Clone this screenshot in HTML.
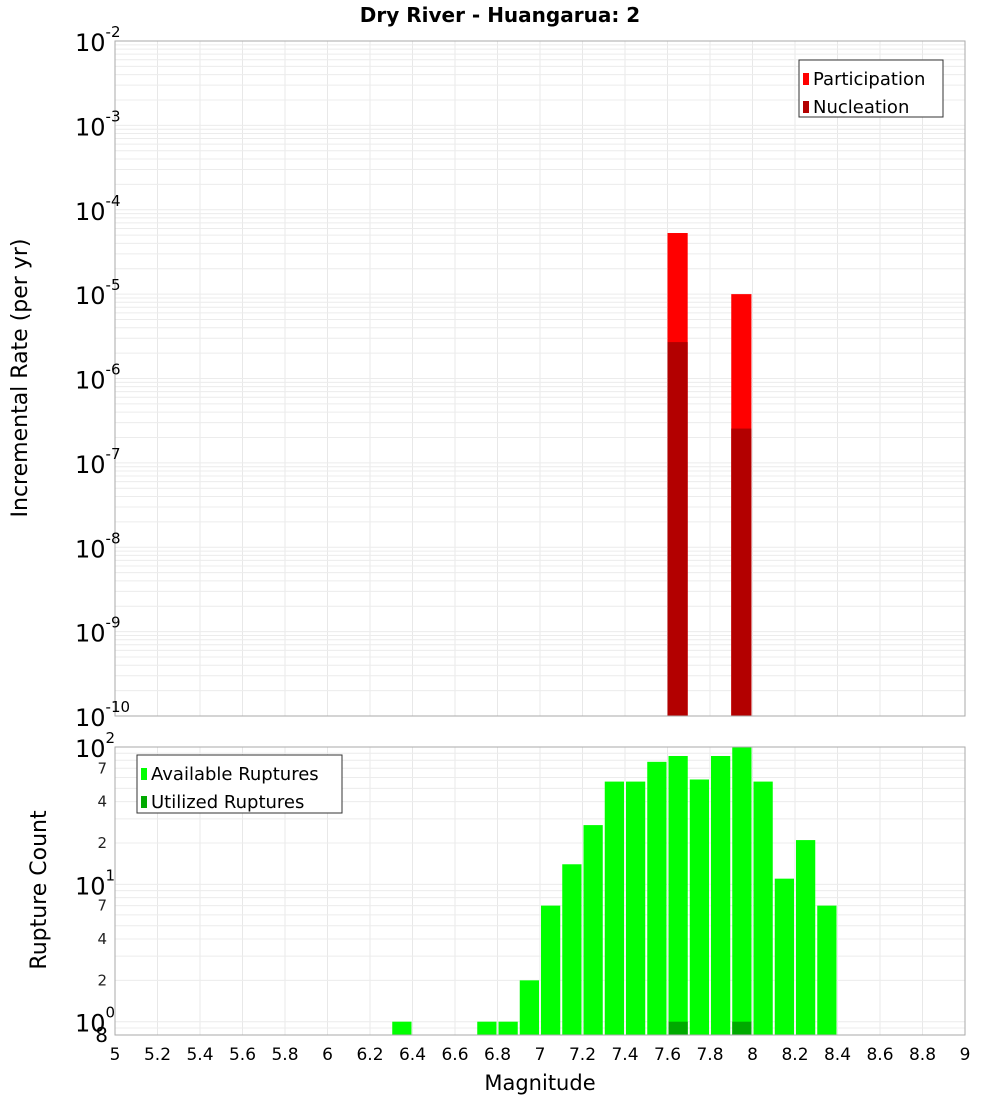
<!DOCTYPE html>
<html><head><meta charset="utf-8"><style>
body{margin:0;background:#fff;}
svg text{font-family:"DejaVu Sans","Liberation Sans",sans-serif;}
</style></head><body>
<svg id="c" width="1000" height="1100" xmlns="http://www.w3.org/2000/svg"></svg>
<script>
// Top chart data (bins: start magnitude, width 0.1)
const topBins = [7.6, 7.9];
const participation = [5.3e-5, 1.0e-5];
const nucleation = [2.7e-6, 2.55e-7];
// Bottom chart data
const countBins = [6.3,6.7,6.8,6.9,7.0,7.1,7.2,7.3,7.4,7.5,7.6,7.7,7.8,7.9,8.0,8.1,8.2,8.3];
const available = [1,1,1,2,7,14,27,56,56,78,86,58,86,100,56,11,21,7];
const utilizedBins = [7.6, 7.9];
const utilized = [1, 1];
const xTicks = [5,5.2,5.4,5.6,5.8,6,6.2,6.4,6.6,6.8,7,7.2,7.4,7.6,7.8,8,8.2,8.4,8.6,8.8,9];
const topDecades = [-2,-3,-4,-5,-6,-7,-8,-9,-10];
const botMinorLabels = [2,4,7];

const svg=document.getElementById('c');
const NS='http://www.w3.org/2000/svg';
function el(tag,attrs,parent,name,inter){const e=document.createElementNS(NS,tag);for(const k in attrs)e.setAttribute(k,attrs[k]);


(parent||svg).appendChild(e);return e;}
const L=115,R=965;
const xs=m=>L+(m-5)/4*(R-L);
const T1=41,B1=716; const yTop=v=>T1+(-2-Math.log10(v))/8*(B1-T1);
const T2=747,B2=1035; const lmin=Math.log10(0.8),lmax=2; const yBot=v=>B2-(Math.log10(v)-lmin)/(lmax-lmin)*(B2-T2);

// title
const t=el('text',{x:500,y:22,'text-anchor':'middle','font-size':20,'font-weight':'bold'},svg,'chart-title');t.textContent='Dry River - Huangarua: 2';

function grid(T,B,yf,decs,name){
 const g=el('g',{},svg,name);
 for(const m of xTicks){const x=xs(m);el('line',{x1:x,x2:x,y1:T,y2:B,stroke:'#e8e8e8'},g,'x-grid-line');}
 for(const d of decs){for(let k=1;k<10;k++){const v=k*Math.pow(10,d);const y=yf(v);if(y<T-0.5||y>B+0.5)continue;el('line',{x1:L,x2:R,y1:y,y2:y,stroke:'#ececec'},g,'y-grid-line');}}
}
grid(T1,B1,yTop,[-10,-9,-8,-7,-6,-5,-4,-3,-2],'top-grid');
grid(T2,B2,yBot,[-1,0,1,2],'bottom-grid');

// top bars
topBins.forEach((b,i)=>{const x0=xs(b),x1=xs(b+0.095);
 el('rect',{x:x0,y:yTop(participation[i]),width:x1-x0,height:B1-yTop(participation[i]),fill:'#ff0000'},svg,'participation-bar');
 el('rect',{x:x0,y:yTop(nucleation[i]),width:x1-x0,height:B1-yTop(nucleation[i]),fill:'#b30000'},svg,'nucleation-bar');});
// bottom bars
countBins.forEach((b,i)=>{const x0=xs(b)+1,x1=xs(b+0.1)-1;
 el('rect',{x:x0,y:yBot(available[i]),width:x1-x0,height:B2-yBot(available[i]),fill:'#00ff00'},svg,'available-bar');});
utilizedBins.forEach((b,i)=>{const x0=xs(b)+1,x1=xs(b+0.1)-1;
 el('rect',{x:x0,y:yBot(utilized[i]),width:x1-x0,height:B2-yBot(utilized[i]),fill:'#00aa00'},svg,'utilized-bar');});

// frames
el('rect',{x:L,y:T1,width:R-L,height:B1-T1,fill:'none',stroke:'#aaa'},svg,'top-plot-frame');
el('rect',{x:L,y:T2,width:R-L,height:B2-T2,fill:'none',stroke:'#aaa'},svg,'bottom-plot-frame');

// top y labels
for(const d of topDecades){const y=yTop(Math.pow(10,d));
 const tx=el('text',{x:103,y:y+10,'text-anchor':'end','font-size':24},svg,'y-tick-label');
 tx.innerHTML='10<tspan font-size="15" dy="-14">'+d+'</tspan>';
 tx.setAttribute('x',75);tx.setAttribute('text-anchor','start');}
// bottom y labels
[2,1,0].forEach(d=>{const y=yBot(Math.pow(10,d));const tx=el('text',{x:75,y:y+10,'font-size':24},svg,'y-tick-label');tx.innerHTML='10<tspan font-size="15" dy="-14">'+d+'</tspan>';});
[1,0].forEach(d=>{botMinorLabels.forEach(k=>{const y=yBot(k*Math.pow(10,d));const tx=el('text',{x:107,y:y+5,'text-anchor':'end','font-size':15,fill:'#222'},svg,'y-minor-label');tx.textContent=k;});});
{const tx=el('text',{x:108,y:1042,'text-anchor':'end','font-size':20},svg,'y-minor-label');tx.textContent='8';}

// x labels
for(const m of xTicks){const tx=el('text',{x:xs(m),y:1060,'text-anchor':'middle','font-size':17},svg,'x-tick-label');tx.textContent=String(m);}
{const tx=el('text',{x:540,y:1090,'text-anchor':'middle','font-size':21},svg,'x-axis-title');tx.textContent='Magnitude';}
{const tx=el('text',{x:0,y:0,'text-anchor':'middle','font-size':22,transform:'translate(27,378) rotate(-90)'},svg,'top-y-axis-title');tx.textContent='Incremental Rate (per yr)';}
{const tx=el('text',{x:0,y:0,'text-anchor':'middle','font-size':22,transform:'translate(46,890) rotate(-90)'},svg,'bottom-y-axis-title');tx.textContent='Rupture Count';}

// legends
function legend(x,y,w,h,items,name){const g=el('g',{},svg,name);
 el('rect',{x:x,y:y,width:w,height:h,fill:'#fff',stroke:'#333'},g,'legend-box');
 items.forEach((it,i)=>{const yy=y+13+i*28;el('rect',{x:x+4,y:yy,width:6,height:12,fill:it[1]},g,'legend-swatch');
 const tx=el('text',{x:x+14,y:yy+12,'font-size':18},g,'legend-entry');tx.textContent=it[0];});}
legend(799,60,144,57,[['Participation','#ff0000'],['Nucleation','#b30000']],'top-legend');
legend(137,755,205,58,[['Available Ruptures','#00ff00'],['Utilized Ruptures','#00aa00']],'bottom-legend');
</script>
</body></html>
